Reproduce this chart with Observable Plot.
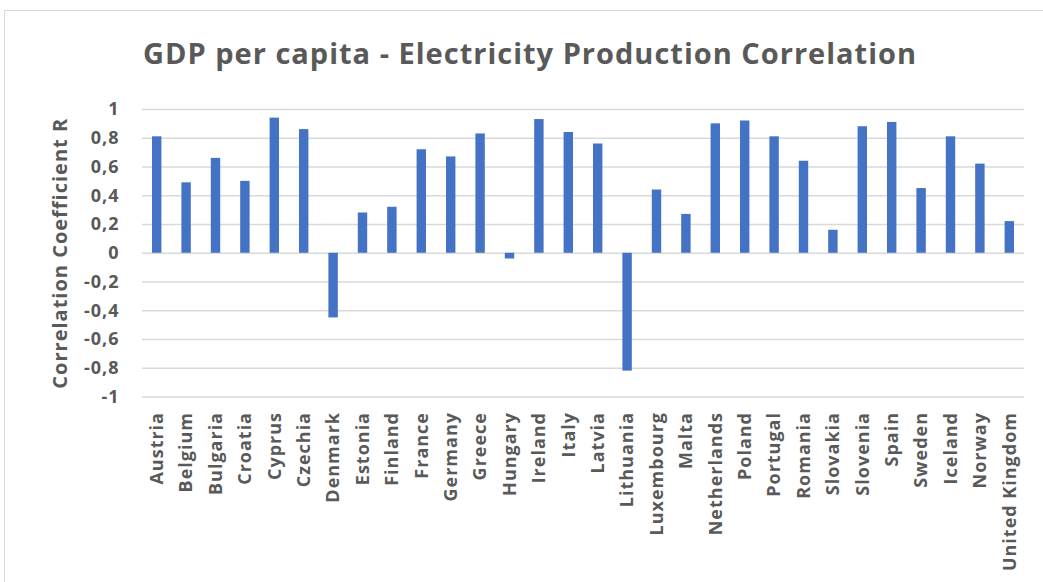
<!DOCTYPE html>
<html>
<head>
<meta charset="utf-8">
<script src="https://cdn.jsdelivr.net/npm/d3@7"></script>
<script src="https://cdn.jsdelivr.net/npm/@observablehq/plot@0.6"></script>
<style>
  html, body { margin: 0; padding: 0; background: #fff; }
  #wrap { position: relative; width: 1043px; height: 582px; overflow: hidden; }
  #frame { position: absolute; left: 4px; top: 10px; width: 1060px; height: 600px; border: 1px solid #d9d9d9; box-sizing: border-box; }
  #title { position: absolute; left: 0; top: 0; width: 1060px; height: 90px; line-height: 106px; text-align: center;
           font-family: "Open Sans", sans-serif; font-weight: 700; font-size: 29px; letter-spacing: 1px; color: #595959; }
  #chart { position: absolute; left: 0; top: 90px; }
  #chart svg text { letter-spacing: 1px; }
</style>
</head>
<body>
<div id="wrap">
  <div id="frame"></div>
  <div id="title">GDP per capita - Electricity Production Correlation</div>
  <div id="chart"></div>
</div>
<script>
// Countries in display order
const countries = [
  "Austria", "Belgium", "Bulgaria", "Croatia", "Cyprus", "Czechia", "Denmark",
  "Estonia", "Finland", "France", "Germany", "Greece", "Hungary", "Ireland",
  "Italy", "Latvia", "Lithuania", "Luxembourg", "Malta", "Netherlands", "Poland",
  "Portugal", "Romania", "Slovakia", "Slovenia", "Spain", "Sweden", "Iceland",
  "Norway", "United Kingdom"
];

// Correlation coefficient R per country
const correlation = [
  0.81, 0.49, 0.66, 0.50, 0.94, 0.86, -0.45,
  0.28, 0.32, 0.72, 0.67, 0.83, -0.04, 0.93,
  0.84, 0.76, -0.82, 0.44, 0.27, 0.90, 0.92,
  0.81, 0.64, 0.16, 0.88, 0.91, 0.45, 0.81,
  0.62, 0.22
];

// Value axis ticks
const yTicks = [-1, -0.8, -0.6, -0.4, -0.2, 0, 0.2, 0.4, 0.6, 0.8, 1];

const data = countries.map((country, i) => ({country, r: correlation[i]}));
const fmt = d => String(d).replace(".", ",");
const grey = "#595959";

const chart = Plot.plot({
  width: 1043,
  height: 492,
  marginTop: 19,
  marginBottom: 185.5,
  marginLeft: 142,
  marginRight: 19,
  style: {fontFamily: "Open Sans, sans-serif", fontWeight: 700, fontSize: "18px", color: grey, background: "transparent"},
  x: {domain: countries, paddingInner: 0.68, paddingOuter: 0.34, round: false},
  y: {domain: [-1, 1]},
  marks: [
    Plot.ruleY(yTicks, {stroke: "#d9d9d9", strokeWidth: 1.5}),
    Plot.barY(data, {x: "country", y: "r", fill: "#4472c4"}),
    Plot.axisY({ticks: yTicks, tickFormat: fmt, tickSize: 0, tickPadding: 23, label: null}),
    Plot.axisX({tickRotate: -90, tickSize: 0, tickPadding: 15, label: null}),
    Plot.text(["Correlation Coefficient R"], {frameAnchor: "left", textAnchor: "middle", rotate: -90, dx: -82, fontSize: 20, fontWeight: 700, fill: grey})
  ]
});
document.getElementById("chart").appendChild(chart);
</script>
</body>
</html>
